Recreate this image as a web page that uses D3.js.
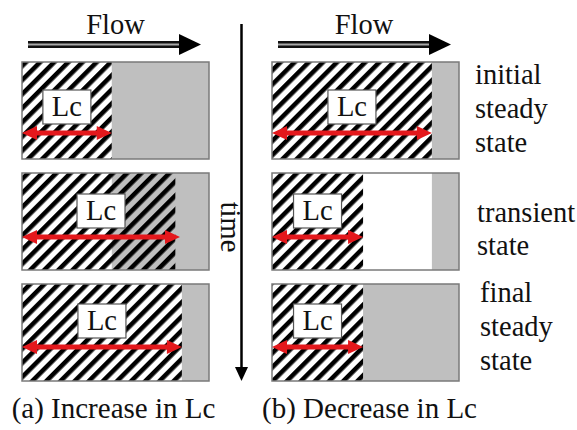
<!DOCTYPE html>
<html><head><meta charset="utf-8">
<script src="https://cdn.jsdelivr.net/npm/d3@7"></script>
<style>html,body{margin:0;padding:0;background:#fff}svg{display:block}text{font-family:"Liberation Serif","Times New Roman",serif;fill:#111}</style>
</head><body>
<script>
// ---- data ----
const panelTitles = ["(a) Increase in Lc", "(b) Decrease in Lc"];
const flowLabel = "Flow";
const timeLabel = "time";
const lcLabel = "Lc";
const stateLabels = [["initial", "steady", "state"], ["transient", "state"], ["final", "steady", "state"]];
// fractions of channel length
const hatchEndA = [0.48, 0.82, 0.855];
const lcA = [0.48, 0.845, 0.855];
const grayStartA = [0.48, 0.48, 0.855];
const hatchEndB = [0.855, 0.487, 0.487];
const lcB = [0.855, 0.487, 0.487];
const grayStartB = [0.855, 0.855, 0.487];

const panels = [
  {hatch: hatchEndA, lc: lcA, gray: grayStartA},
  {hatch: hatchEndB, lc: lcB, gray: grayStartB}
];

// ---- layout ----
const W = 577, H = 430;
const panelX = [22, 272], panelW = 187;
const rowY = [62, 173, 284], rowH = 97;
const arrowRel = [71, 64, 63];
const red = "#e4181c", grayFill = "#bfbfbf";
const fs = 28.5;

const svg = d3.select("body").append("svg").attr("width", W).attr("height", H);
const defs = svg.append("defs");
const pat = defs.append("pattern").attr("id", "hatch").attr("patternUnits", "userSpaceOnUse")
  .attr("width", 10).attr("height", 10).attr("patternTransform", "rotate(45)");
pat.append("rect").attr("x", 0).attr("y", 0).attr("width", 4.6).attr("height", 10).attr("fill", "#000");

const yRow = d3.scaleOrdinal().domain([0, 1, 2]).range(rowY);

panels.forEach((p, pi) => {
  const x = d3.scaleLinear().domain([0, 1]).range([panelX[pi], panelX[pi] + panelW]);
  const g = svg.append("g");
  // Flow arrow
  const fx0 = x(0) + 6, fx1 = x(1) - 8, fy = 44.5;
  g.append("line").attr("x1", fx0).attr("x2", fx1 - 18).attr("y1", fy).attr("y2", fy)
    .attr("stroke", "#111").attr("stroke-width", 7);
  g.append("line").attr("x1", fx0).attr("x2", fx1 - 18).attr("y1", fy).attr("y2", fy)
    .attr("stroke", "#aaa").attr("stroke-width", 2);
  g.append("path").attr("d", `M${fx1 - 22},${fy - 10.5} L${fx1},${fy} L${fx1 - 22},${fy + 10.5} Z`).attr("fill", "#000");
  g.append("text").attr("x", (x(0) + x(1)) / 2 - (pi ? 1.5 : 0)).attr("y", 34).attr("text-anchor", "middle")
    .style("font-size", fs + "px").text(flowLabel);

  [0, 1, 2].forEach(r => {
    const y0 = yRow(r);
    g.append("rect").attr("x", x(0)).attr("y", y0).attr("width", x(1) - x(0)).attr("height", rowH).attr("fill", "#fff");
    g.append("rect").attr("x", x(p.gray[r])).attr("y", y0).attr("width", x(1) - x(p.gray[r])).attr("height", rowH).attr("fill", grayFill);
    g.append("rect").attr("x", x(0)).attr("y", y0).attr("width", x(p.hatch[r]) - x(0)).attr("height", rowH).attr("fill", "url(#hatch)");
    g.append("rect").attr("x", x(0)).attr("y", y0).attr("width", x(1) - x(0)).attr("height", rowH)
      .attr("fill", "none").attr("stroke", "#7a7a7a").attr("stroke-width", 1.5);
    const ay = y0 + arrowRel[r];
    const ax0 = x(0), ax1 = x(p.lc[r]);
    const hl = 15, hh = 7;
    g.append("line").attr("x1", ax0 + hl - 2).attr("x2", ax1 - hl + 2).attr("y1", ay).attr("y2", ay)
      .attr("stroke", red).attr("stroke-width", 5);
    g.append("path").attr("d", `M${ax0},${ay} L${ax0 + hl},${ay - hh} L${ax0 + hl},${ay + hh} Z`).attr("fill", red);
    g.append("path").attr("d", `M${ax1},${ay} L${ax1 - hl},${ay - hh} L${ax1 - hl},${ay + hh} Z`).attr("fill", red);
    const cx = (ax0 + ax1) / 2, bw = 48, bh = 34;
    g.append("rect").attr("x", cx - bw / 2).attr("y", ay - 9 - bh).attr("width", bw).attr("height", bh)
      .attr("fill", "#fff").attr("stroke", "#555").attr("stroke-width", 1.2);
    g.append("text").attr("x", cx).attr("y", ay - 9 - 8).attr("text-anchor", "middle")
      .style("font-size", fs + "px").text(lcLabel);
  });

  g.append("text").attr("x", (x(0) + x(1)) / 2 - (pi ? -4 : 2)).attr("y", 418).attr("text-anchor", "middle")
    .style("font-size", (fs + 0.5) + "px").text(panelTitles[pi]);
});

// state labels
const labelX = [475, 477, 480];
const labelBase = [[84, 118, 152], [222, 255], [302, 336, 370]];
stateLabels.forEach((lines, r) => {
  lines.forEach((t, i) => {
    svg.append("text").attr("x", labelX[r]).attr("y", labelBase[r][i]).style("font-size", fs + "px").text(t);
  });
});

// time arrow
const tx = 241.5;
svg.append("line").attr("x1", tx).attr("x2", tx).attr("y1", 24).attr("y2", 370).attr("stroke", "#000").attr("stroke-width", 2.5);
svg.append("path").attr("d", `M${tx - 6.5},${367} L${tx},${381} L${tx + 6.5},${367} Z`).attr("fill", "#000");
svg.append("text").attr("transform", `translate(221,227) rotate(90)`).attr("text-anchor", "middle")
  .style("font-size", fs + "px").text(timeLabel);
</script>
</body></html>
